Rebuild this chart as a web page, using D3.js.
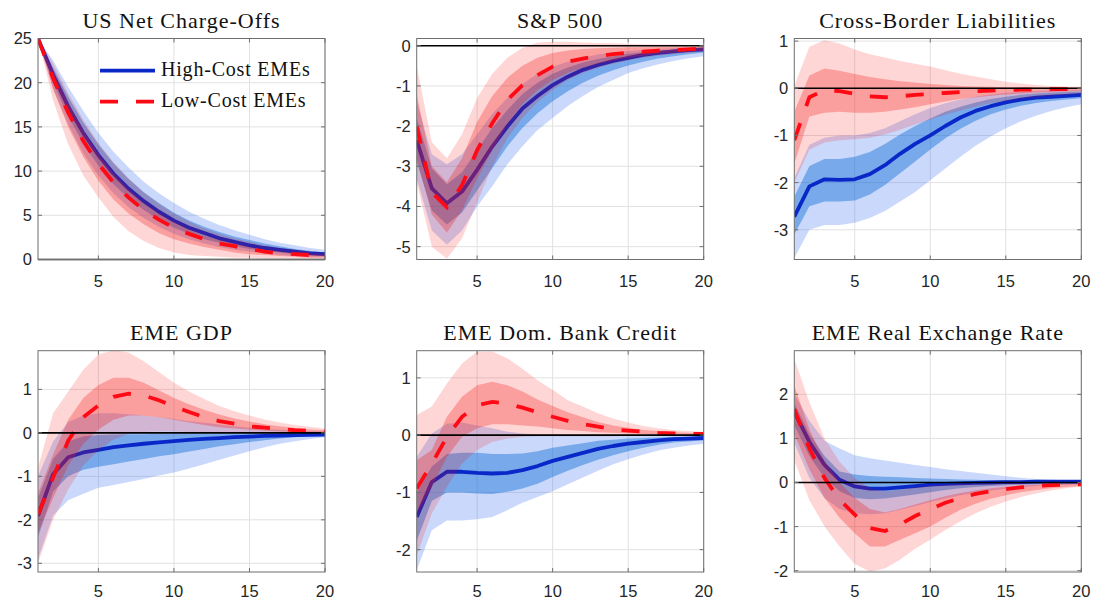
<!DOCTYPE html>
<html>
<head>
<meta charset="utf-8">
<script src="https://cdn.jsdelivr.net/npm/d3@7"></script>
<style>
  html, body { margin: 0; padding: 0; background: #fff; }
  svg { display: block; }
</style>
</head>
<body>
<svg id="chart" width="1095" height="599"></svg>
<script>
// Impulse responses over 20 quarters: median path plus 68% and 90% bands
// for high-cost and low-cost emerging market economies.
const quarters = [1,2,3,4,5,6,7,8,9,10,11,12,13,14,15,16,17,18,19,20];
const xTicks = [5, 10, 15, 20];
const seriesNames = ["High-Cost EMEs", "Low-Cost EMEs"];

// US Net Charge-Offs
const ncoTitle = "US Net Charge-Offs";
const ncoTicks = [0, 5, 10, 15, 20, 25];
const ncoHigh     = [25,20.9,17.3,14.3,11.8,9.7,8.0,6.6,5.4,4.4,3.6,3.0,2.4,2.0,1.6,1.3,1.1,0.9,0.7,0.6];
const ncoHighLo90 = [25,19.3,15.3,12.0,9.5,7.5,5.9,4.7,3.7,2.9,2.3,1.8,1.4,1.1,0.9,0.7,0.5,0.4,0.3,0.3];
const ncoHighLo68 = [25,20.0,16.2,13.1,10.6,8.5,6.9,5.6,4.5,3.6,2.9,2.3,1.9,1.5,1.2,1.0,0.8,0.6,0.5,0.4];
const ncoHighHi68 = [25,21.7,18.4,15.5,13.0,10.9,9.1,7.6,6.4,5.3,4.4,3.7,3.1,2.6,2.2,1.8,1.5,1.2,1.0,0.8];
const ncoHighHi90 = [25,22.5,19.5,16.8,14.3,12.2,10.4,8.8,7.5,6.4,5.4,4.6,3.9,3.3,2.8,2.3,1.9,1.6,1.3,1.1];
const ncoLow      = [25,20.5,16.6,13.4,10.8,8.7,7.0,5.6,4.5,3.6,2.9,2.3,1.8,1.5,1.2,0.9,0.7,0.6,0.5,0.4];
const ncoLowLo90  = [25,18.0,13.0,9.5,7.0,4.8,3.2,2.1,1.3,0.8,0.5,0.4,0.3,0.2,0.2,0.1,0.1,0.1,0.1,0.1];
const ncoLowLo68  = [25,19.3,15.0,11.6,8.9,6.8,5.2,4.0,3.0,2.3,1.8,1.4,1.1,0.8,0.6,0.5,0.4,0.3,0.2,0.2];
const ncoLowHi68  = [25,21.3,17.7,14.6,11.9,9.7,7.9,6.4,5.2,4.2,3.4,2.7,2.2,1.8,1.4,1.1,0.9,0.7,0.6,0.5];
const ncoLowHi90  = [25,22.2,18.8,15.8,13.2,11.0,9.2,7.6,6.3,5.2,4.3,3.5,2.9,2.4,2.0,1.6,1.3,1.1,0.9,0.7];

// S&P 500
const spxTitle = "S&P 500";
const spxTicks = [-5, -4, -3, -2, -1, 0];
const spxHigh     = [-2.35,-3.55,-3.92,-3.63,-3.09,-2.51,-2.01,-1.56,-1.25,-0.98,-0.77,-0.6,-0.48,-0.38,-0.3,-0.23,-0.18,-0.14,-0.11,-0.09];
const spxHighLo90 = [-3.3,-4.6,-4.95,-4.6,-4.0,-3.5,-2.95,-2.5,-2.1,-1.8,-1.5,-1.25,-1.03,-0.85,-0.68,-0.56,-0.46,-0.38,-0.31,-0.26];
const spxHighLo68 = [-2.9,-4.1,-4.45,-4.15,-3.6,-3.05,-2.5,-2.05,-1.68,-1.38,-1.13,-0.92,-0.75,-0.61,-0.49,-0.4,-0.32,-0.26,-0.21,-0.17];
const spxHighHi68 = [-1.8,-3.05,-3.45,-3.15,-2.6,-2.05,-1.6,-1.2,-0.92,-0.7,-0.54,-0.42,-0.33,-0.26,-0.2,-0.16,-0.12,-0.1,-0.08,-0.06];
const spxHighHi90 = [-1.4,-2.7,-2.95,-2.7,-2.2,-1.7,-1.3,-0.95,-0.7,-0.52,-0.4,-0.3,-0.22,-0.17,-0.13,-0.1,-0.08,-0.06,-0.05,-0.04];
const spxLow      = [-2.0,-3.65,-4.02,-3.47,-2.6,-1.93,-1.35,-0.98,-0.73,-0.52,-0.4,-0.32,-0.26,-0.21,-0.17,-0.15,-0.12,-0.11,-0.09,-0.07];
const spxLowLo90  = [-3.4,-5.0,-5.3,-4.8,-3.9,-3.0,-2.3,-1.8,-1.4,-1.1,-0.85,-0.68,-0.55,-0.45,-0.37,-0.3,-0.25,-0.21,-0.18,-0.15];
const spxLowLo68  = [-2.8,-4.2,-4.65,-4.1,-3.3,-2.6,-1.95,-1.45,-1.1,-0.85,-0.68,-0.55,-0.45,-0.37,-0.3,-0.25,-0.2,-0.17,-0.14,-0.12];
const spxLowHi68  = [-1.2,-3.0,-3.4,-2.8,-1.9,-1.25,-0.8,-0.5,-0.3,-0.18,-0.12,-0.08,-0.06,-0.05,-0.04,-0.04,-0.03,-0.03,-0.03,-0.03];
const spxLowHi90  = [-0.5,-2.4,-2.8,-2.2,-1.3,-0.7,-0.3,-0.05,0.08,0.1,0.1,0.08,0.07,0.06,0.05,0.04,0.03,0.03,0.02,0.02];

// Cross-Border Liabilities
const cblTitle = "Cross-Border Liabilities";
const cblTicks = [-3, -2, -1, 0, 1];
const cblHigh     = [-2.72,-2.08,-1.93,-1.94,-1.93,-1.82,-1.63,-1.39,-1.18,-1.0,-0.8,-0.62,-0.48,-0.38,-0.3,-0.24,-0.2,-0.18,-0.16,-0.14];
const cblHighLo90 = [-3.6,-3.0,-2.9,-2.9,-2.85,-2.75,-2.6,-2.4,-2.2,-1.95,-1.7,-1.45,-1.22,-1.02,-0.85,-0.7,-0.58,-0.48,-0.4,-0.34];
const cblHighLo68 = [-3.1,-2.5,-2.4,-2.4,-2.38,-2.25,-2.05,-1.8,-1.55,-1.3,-1.06,-0.86,-0.69,-0.55,-0.45,-0.37,-0.31,-0.27,-0.24,-0.21];
const cblHighHi68 = [-2.3,-1.65,-1.5,-1.5,-1.45,-1.35,-1.18,-0.98,-0.8,-0.64,-0.5,-0.39,-0.3,-0.23,-0.18,-0.14,-0.11,-0.09,-0.08,-0.07];
const cblHighHi90 = [-1.9,-1.2,-1.05,-1.0,-1.0,-0.95,-0.85,-0.7,-0.55,-0.42,-0.32,-0.24,-0.18,-0.13,-0.1,-0.08,-0.06,-0.05,-0.04,-0.04];
const cblLow      = [-1.1,-0.19,-0.04,-0.06,-0.12,-0.17,-0.19,-0.17,-0.14,-0.12,-0.1,-0.08,-0.06,-0.05,-0.04,-0.03,-0.03,-0.02,-0.02,-0.02];
const cblLowLo90  = [-2.0,-1.3,-1.15,-1.1,-1.08,-1.05,-0.98,-0.88,-0.77,-0.66,-0.56,-0.47,-0.39,-0.32,-0.27,-0.22,-0.19,-0.16,-0.14,-0.12];
const cblLowLo68  = [-1.6,-0.6,-0.52,-0.5,-0.52,-0.52,-0.5,-0.45,-0.4,-0.34,-0.28,-0.23,-0.19,-0.16,-0.13,-0.11,-0.09,-0.08,-0.07,-0.06];
const cblLowHi68  = [-0.5,0.27,0.42,0.37,0.3,0.24,0.19,0.15,0.12,0.09,0.07,0.05,0.04,0.03,0.02,0.02,0.02,0.01,0.01,0.01];
const cblLowHi90  = [0.05,0.88,1.02,0.95,0.82,0.72,0.65,0.58,0.52,0.46,0.38,0.31,0.25,0.19,0.14,0.1,0.07,0.05,0.04,0.03];

// EME GDP
const gdpTitle = "EME GDP";
const gdpTicks = [-3, -2, -1, 0, 1];
const gdpHigh     = [-1.91,-0.95,-0.56,-0.45,-0.39,-0.33,-0.29,-0.25,-0.22,-0.19,-0.16,-0.14,-0.12,-0.1,-0.085,-0.07,-0.06,-0.05,-0.045,-0.04];
const gdpHighLo90 = [-2.9,-1.9,-1.55,-1.4,-1.26,-1.2,-1.13,-1.06,-0.98,-0.91,-0.82,-0.72,-0.62,-0.52,-0.42,-0.33,-0.25,-0.19,-0.14,-0.1];
const gdpHighLo68 = [-2.4,-1.35,-1.0,-0.85,-0.78,-0.72,-0.66,-0.6,-0.54,-0.49,-0.43,-0.37,-0.31,-0.26,-0.21,-0.17,-0.13,-0.1,-0.08,-0.06];
const gdpHighHi68 = [-1.5,-0.6,-0.2,-0.08,-0.05,-0.04,-0.03,-0.03,-0.02,-0.02,-0.02,-0.02,-0.02,-0.02,-0.01,-0.01,-0.01,-0.01,-0.01,-0.01];
const gdpHighHi90 = [-1.0,-0.2,0.25,0.4,0.45,0.45,0.43,0.4,0.36,0.32,0.27,0.23,0.19,0.15,0.12,0.09,0.07,0.05,0.04,0.03];
const gdpLow      = [-1.88,-1.03,-0.18,0.36,0.63,0.83,0.9,0.86,0.75,0.61,0.48,0.36,0.27,0.21,0.15,0.12,0.09,0.06,0.05,0.03];
const gdpLowLo90  = [-3.0,-2.0,-1.3,-0.75,-0.4,-0.15,-0.02,0.02,0.03,0.03,0.02,0.01,0.0,0.0,-0.01,-0.01,-0.01,-0.02,-0.02,-0.02];
const gdpLowLo68  = [-2.3,-1.5,-0.75,-0.25,0.08,0.3,0.4,0.4,0.36,0.3,0.24,0.18,0.13,0.1,0.07,0.05,0.03,0.02,0.01,0.0];
const gdpLowHi68  = [-1.4,-0.5,0.3,0.8,1.1,1.27,1.27,1.15,0.98,0.8,0.66,0.53,0.42,0.33,0.26,0.2,0.15,0.11,0.08,0.06];
const gdpLowHi90  = [-0.8,0.45,0.95,1.45,1.8,1.9,1.85,1.65,1.4,1.15,0.95,0.78,0.62,0.5,0.4,0.31,0.24,0.18,0.14,0.1];

// EME Dom. Bank Credit
const crdTitle = "EME Dom. Bank Credit";
const crdTicks = [-2, -1, 0, 1];
const crdHigh     = [-1.43,-0.82,-0.64,-0.64,-0.66,-0.67,-0.66,-0.61,-0.54,-0.45,-0.38,-0.31,-0.24,-0.19,-0.15,-0.12,-0.09,-0.07,-0.06,-0.05];
const crdHighLo90 = [-2.36,-1.66,-1.49,-1.49,-1.47,-1.43,-1.31,-1.18,-1.08,-0.98,-0.86,-0.74,-0.62,-0.51,-0.42,-0.34,-0.27,-0.22,-0.18,-0.15];
const crdHighLo68 = [-1.85,-1.15,-1.0,-1.0,-1.02,-1.03,-0.99,-0.93,-0.85,-0.73,-0.62,-0.52,-0.43,-0.35,-0.28,-0.22,-0.17,-0.13,-0.11,-0.09];
const crdHighHi68 = [-1.0,-0.55,-0.33,-0.31,-0.31,-0.33,-0.33,-0.32,-0.28,-0.22,-0.18,-0.14,-0.1,-0.08,-0.06,-0.05,-0.04,-0.03,-0.03,-0.02];
const crdHighHi90 = [-0.38,0.03,0.2,0.22,0.17,0.12,0.06,0.03,0.01,0.0,-0.01,-0.01,-0.01,-0.01,-0.01,-0.01,-0.01,-0.01,-0.01,-0.01];
const crdLow      = [-0.93,-0.5,-0.03,0.32,0.52,0.58,0.55,0.48,0.4,0.32,0.25,0.19,0.15,0.1,0.08,0.06,0.04,0.03,0.02,0.02];
const crdLowLo90  = [-2.1,-1.37,-0.9,-0.5,-0.26,-0.12,-0.06,-0.03,-0.02,-0.02,-0.02,-0.02,-0.02,-0.02,-0.01,-0.01,-0.01,-0.01,-0.01,-0.01];
const crdLowLo68  = [-1.37,-0.9,-0.38,-0.03,0.12,0.19,0.19,0.17,0.15,0.12,0.09,0.07,0.05,0.04,0.03,0.02,0.01,0.01,0.0,0.0];
const crdLowHi68  = [-0.44,-0.26,0.32,0.67,0.87,0.93,0.87,0.76,0.62,0.51,0.4,0.31,0.23,0.17,0.13,0.09,0.07,0.05,0.04,0.03];
const crdLowHi90  = [0.35,0.5,0.9,1.25,1.46,1.46,1.34,1.16,0.96,0.79,0.61,0.5,0.38,0.29,0.22,0.16,0.12,0.09,0.07,0.06];

// EME Real Exchange Rate
const rerTitle = "EME Real Exchange Rate";
const rerTicks = [-2, -1, 0, 1, 2];
const rerHigh     = [1.6,0.92,0.4,0.06,-0.09,-0.14,-0.14,-0.11,-0.08,-0.05,-0.03,-0.02,-0.01,0.0,0.01,0.01,0.02,0.02,0.02,0.02];
const rerHighLo90 = [0.9,0.1,-0.35,-0.6,-0.7,-0.72,-0.7,-0.62,-0.53,-0.44,-0.36,-0.29,-0.23,-0.18,-0.14,-0.11,-0.08,-0.06,-0.05,-0.04];
const rerHighLo68 = [1.3,0.6,0.1,-0.2,-0.35,-0.38,-0.36,-0.32,-0.27,-0.22,-0.17,-0.13,-0.1,-0.08,-0.06,-0.05,-0.04,-0.03,-0.02,-0.02];
const rerHighHi68 = [1.8,1.1,0.6,0.25,0.18,0.15,0.13,0.12,0.1,0.09,0.08,0.07,0.06,0.05,0.05,0.04,0.04,0.03,0.03,0.03];
const rerHighHi90 = [2.0,1.4,0.95,0.77,0.62,0.55,0.5,0.45,0.4,0.35,0.3,0.26,0.22,0.18,0.14,0.11,0.08,0.06,0.05,0.04];
const rerLow      = [1.67,0.77,0.1,-0.39,-0.73,-1.03,-1.1,-0.95,-0.76,-0.61,-0.46,-0.35,-0.26,-0.2,-0.15,-0.11,-0.08,-0.06,-0.05,-0.04];
const rerLowLo90  = [0.5,-0.4,-1.0,-1.45,-1.85,-2.02,-1.95,-1.75,-1.5,-1.3,-1.08,-0.88,-0.7,-0.55,-0.43,-0.33,-0.25,-0.18,-0.13,-0.09];
const rerLowLo68  = [1.1,0.3,-0.35,-0.8,-1.15,-1.45,-1.45,-1.3,-1.15,-1.0,-0.8,-0.62,-0.48,-0.37,-0.29,-0.22,-0.17,-0.13,-0.1,-0.08];
const rerLowHi68  = [2.2,1.2,0.5,0.0,-0.35,-0.6,-0.68,-0.6,-0.5,-0.4,-0.31,-0.24,-0.18,-0.13,-0.1,-0.07,-0.05,-0.04,-0.03,-0.02];
const rerLowHi90  = [2.8,1.82,1.0,0.47,0.1,-0.13,-0.2,-0.16,-0.11,-0.07,-0.05,-0.03,-0.02,-0.02,-0.01,-0.01,-0.01,-0.01,-0.01,-0.01];

// Panel grid: 2 rows x 3 columns
const colLeft = [38, 416.7, 794.3];
const panelW = 287;
const rowTop = [38.5, 350.7];
const panelH = [221, 221.3];
const titleBase = [28, 340];
const xLabelOffset = [27.5, 25];

const panels = [
  { title: ncoTitle, ticks: ncoTicks, domain: [0, 25],       col: 0, row: 0, legend: true,
    high: [ncoHigh, ncoHighLo90, ncoHighHi90, ncoHighLo68, ncoHighHi68],
    low:  [ncoLow,  ncoLowLo90,  ncoLowHi90,  ncoLowLo68,  ncoLowHi68] },
  { title: spxTitle, ticks: spxTicks, domain: [-5.32, 0.18], col: 1, row: 0,
    high: [spxHigh, spxHighLo90, spxHighHi90, spxHighLo68, spxHighHi68],
    low:  [spxLow,  spxLowLo90,  spxLowHi90,  spxLowLo68,  spxLowHi68] },
  { title: cblTitle, ticks: cblTicks, domain: [-3.63, 1.055], col: 2, row: 0,
    high: [cblHigh, cblHighLo90, cblHighHi90, cblHighLo68, cblHighHi68],
    low:  [cblLow,  cblLowLo90,  cblLowHi90,  cblLowLo68,  cblLowHi68] },
  { title: gdpTitle, ticks: gdpTicks, domain: [-3.2, 1.89],  col: 0, row: 1,
    high: [gdpHigh, gdpHighLo90, gdpHighHi90, gdpHighLo68, gdpHighHi68],
    low:  [gdpLow,  gdpLowLo90,  gdpLowHi90,  gdpLowLo68,  gdpLowHi68] },
  { title: crdTitle, ticks: crdTicks, domain: [-2.39, 1.474], col: 1, row: 1,
    high: [crdHigh, crdHighLo90, crdHighHi90, crdHighLo68, crdHighHi68],
    low:  [crdLow,  crdLowLo90,  crdLowHi90,  crdLowLo68,  crdLowHi68] },
  { title: rerTitle, ticks: rerTicks, domain: [-2.03, 2.99], col: 2, row: 1,
    high: [rerHigh, rerHighLo90, rerHighHi90, rerHighLo68, rerHighHi68],
    low:  [rerLow,  rerLowLo90,  rerLowHi90,  rerLowLo68,  rerLowHi68] }
];

const style = {
  highOuter: { fill: "rgb(40,100,240)", op: 0.25 },
  highInner: { fill: "rgb(0,100,210)",  op: 0.40 },
  lowOuter:  { fill: "rgb(255,0,0)",    op: 0.16 },
  lowInner:  { fill: "rgb(240,30,30)",  op: 0.30 },
  highLine: "#0a28c8",
  lowLine: "#ff0a14",
  lineW: 3.8,
  dash: "18,18",
  grid: "#e2e2e2",
  axis: "#6f6f6f",
  text: "#262626"
};

const svg = d3.select("#chart");
const tickFont = "'Liberation Sans', Arial, Helvetica, sans-serif";
const serifFont = "'Liberation Serif', 'Times New Roman', serif";

panels.forEach((p, k) => {
  const left = colLeft[p.col];
  const top = rowTop[p.row];
  const h = panelH[p.row];
  const x = d3.scaleLinear().domain([1, 20]).range([left, left + panelW]);
  const y = d3.scaleLinear().domain(p.domain).range([top + h, top]);

  const g = svg.append("g");
  const clipId = "clip" + k;
  svg.append("clipPath").attr("id", clipId)
    .append("rect").attr("x", left).attr("y", top).attr("width", panelW).attr("height", h);

  // grid
  const grid = g.append("g");
  grid.selectAll("line.gx").data(xTicks).join("line")
    .attr("x1", d => x(d)).attr("x2", d => x(d))
    .attr("y1", top).attr("y2", top + h)
    .attr("stroke", style.grid).attr("stroke-width", 1);
  grid.selectAll("line.gy").data(p.ticks).join("line")
    .attr("class", "gy")
    .attr("x1", left).attr("x2", left + panelW)
    .attr("y1", d => y(d)).attr("y2", d => y(d))
    .attr("stroke", style.grid).attr("stroke-width", 1);

  const plot = g.append("g").attr("clip-path", `url(#${clipId})`);

  const band = (lo, hi) => d3.area()
    .x(i => x(quarters[i]))
    .y0(i => y(lo[i]))
    .y1(i => y(hi[i]))(d3.range(quarters.length));
  const path = vals => d3.line()
    .x(i => x(quarters[i]))
    .y(i => y(vals[i]))(d3.range(quarters.length));

  // high-cost series: bands then median
  plot.append("path").attr("d", band(p.high[1], p.high[2]))
    .attr("fill", style.highOuter.fill).attr("fill-opacity", style.highOuter.op);
  plot.append("path").attr("d", band(p.high[3], p.high[4]))
    .attr("fill", style.highInner.fill).attr("fill-opacity", style.highInner.op);
  plot.append("path").attr("d", path(p.high[0]))
    .attr("fill", "none").attr("stroke", style.highLine).attr("stroke-width", style.lineW)
    .attr("stroke-linejoin", "round");

  // low-cost series: bands then dashed median
  plot.append("path").attr("d", band(p.low[1], p.low[2]))
    .attr("fill", style.lowOuter.fill).attr("fill-opacity", style.lowOuter.op);
  plot.append("path").attr("d", band(p.low[3], p.low[4]))
    .attr("fill", style.lowInner.fill).attr("fill-opacity", style.lowInner.op);
  plot.append("path").attr("d", path(p.low[0]))
    .attr("fill", "none").attr("stroke", style.lowLine).attr("stroke-width", style.lineW)
    .attr("stroke-dasharray", style.dash);

  // zero line
  g.append("line")
    .attr("x1", left).attr("x2", left + panelW)
    .attr("y1", y(0)).attr("y2", y(0))
    .attr("stroke", "#000").attr("stroke-width", 1.6);

  // box and inward ticks on all sides
  g.append("rect").attr("x", left).attr("y", top).attr("width", panelW).attr("height", h)
    .attr("fill", "none").attr("stroke", style.axis).attr("stroke-width", 1);
  const tl = 4;
  xTicks.forEach(t => {
    g.append("line").attr("x1", x(t)).attr("x2", x(t)).attr("y1", top + h).attr("y2", top + h - tl)
      .attr("stroke", style.axis);
    g.append("line").attr("x1", x(t)).attr("x2", x(t)).attr("y1", top).attr("y2", top + tl)
      .attr("stroke", style.axis);
  });
  p.ticks.forEach(t => {
    g.append("line").attr("x1", left).attr("x2", left + tl).attr("y1", y(t)).attr("y2", y(t))
      .attr("stroke", style.axis);
    g.append("line").attr("x1", left + panelW).attr("x2", left + panelW - tl).attr("y1", y(t)).attr("y2", y(t))
      .attr("stroke", style.axis);
  });

  // tick labels
  g.selectAll("text.xt").data(xTicks).join("text")
    .attr("class", "xt")
    .attr("x", d => x(d)).attr("y", top + h + xLabelOffset[p.row])
    .attr("text-anchor", "middle")
    .style("font-family", tickFont).style("font-size", "16.5px").attr("fill", style.text)
    .text(d => String(d));
  g.selectAll("text.yt").data(p.ticks).join("text")
    .attr("class", "yt")
    .attr("x", left - 6).attr("y", d => y(d)).attr("dy", "0.36em")
    .attr("text-anchor", "end")
    .style("font-family", tickFont).style("font-size", "16.5px").attr("fill", style.text)
    .text(d => String(d));

  // title
  g.append("text")
    .attr("x", left + panelW / 2).attr("y", titleBase[p.row])
    .attr("text-anchor", "middle")
    .style("font-family", serifFont).style("font-size", "22px").style("letter-spacing", "1px")
    .attr("fill", "#111")
    .text(p.title);

  // legend
  if (p.legend) {
    const lg = g.append("g");
    const items = [
      { name: seriesNames[0], color: style.highLine, dash: null, yy: 70.7 },
      { name: seriesNames[1], color: style.lowLine, dash: style.dash, yy: 101.7 }
    ];
    items.forEach(it => {
      lg.append("line").attr("x1", left + 62).attr("x2", left + 117)
        .attr("y1", it.yy).attr("y2", it.yy)
        .attr("stroke", it.color).attr("stroke-width", style.lineW)
        .attr("stroke-dasharray", it.dash);
      lg.append("text").attr("x", left + 123).attr("y", it.yy + 5.5)
        .style("font-family", serifFont).style("font-size", "20px").style("letter-spacing", "0.8px")
        .attr("fill", "#111")
        .text(it.name);
    });
  }
});
</script>
</body>
</html>
